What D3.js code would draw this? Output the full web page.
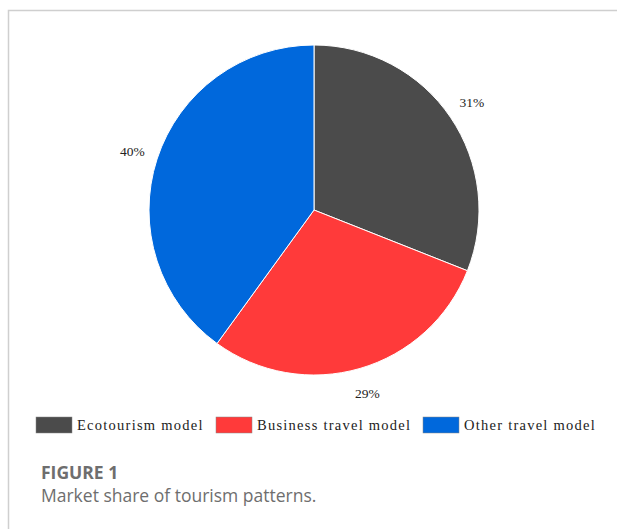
<!DOCTYPE html>
<html>
<head>
<meta charset="utf-8">
<script src="https://cdn.jsdelivr.net/npm/d3@7"></script>
<style>
  body { margin: 0; background: #fff; }
  .legend text, .labels text { font-family: "Liberation Serif", "DejaVu Serif", serif; fill: #222; }
  .caption { font-family: "Open Sans", "Noto Sans", sans-serif; fill: #6e6e6e; }
</style>
</head>
<body>
<div id="chart"></div>
<script>
const categories = ["Ecotourism model", "Business travel model", "Other travel model"];
const shares = [31, 29, 40];
const colors = ["#4b4b4b", "#ff3a3a", "#0068dc"];

const width = 617;
const height = 529;
const cx = 314, cy = 210, radius = 165;

const svg = d3.select("#chart").append("svg")
  .attr("width", width)
  .attr("height", height);

// frame
svg.append("path")
  .attr("d", `M8.5,${height} V10.5 H${width}`)
  .attr("fill", "none")
  .attr("stroke", "#cfcfcf")
  .attr("stroke-width", 1.5);

const pie = d3.pie().sort(null).value((d) => d)(shares);
const arc = d3.arc().innerRadius(0).outerRadius(radius);
const labelArc = d3.arc().innerRadius(191).outerRadius(191);

const g = svg.append("g").attr("transform", `translate(${cx},${cy})`);

g.selectAll(".slice")
  .data(pie).enter()
  .append("path")
    .attr("class", "slice")
    .attr("d", arc)
    .attr("fill", (d, i) => colors[i])
    .attr("stroke", "#fff")
    .attr("stroke-width", 1);

g.append("g").attr("class", "labels")
  .selectAll("text")
  .data(pie).enter()
  .append("text")
    .attr("transform", (d) => `translate(${labelArc.centroid(d)})`)
    .attr("text-anchor", "middle")
    .attr("dy", "0.35em")
    .style("font-size", "13.5px")
    .text((d) => d.data + "%");

// legend
const legendX = [36, 216, 423];
const legend = svg.append("g").attr("class", "legend")
  .selectAll("g")
  .data(categories).enter()
  .append("g")
    .attr("transform", (d, i) => `translate(${legendX[i]}, 417)`);

legend.append("rect")
  .attr("width", 36)
  .attr("height", 16)
  .attr("fill", (d, i) => colors[i])
  .attr("stroke", "#888")
  .attr("stroke-width", 0.5);

legend.append("text")
  .attr("x", 41)
  .attr("y", 13)
  .style("font-size", "14.5px")
  .style("letter-spacing", "1.25px")
  .text((d) => d);

// caption
svg.append("text").attr("class", "caption")
  .attr("x", 41).attr("y", 479)
  .style("font-size", "17.5px")
  .style("font-weight", "bold")
  .text("FIGURE 1");

svg.append("text").attr("class", "caption")
  .attr("x", 41).attr("y", 502)
  .style("font-size", "17.5px")
  .text("Market share of tourism patterns.");
</script>
</body>
</html>
